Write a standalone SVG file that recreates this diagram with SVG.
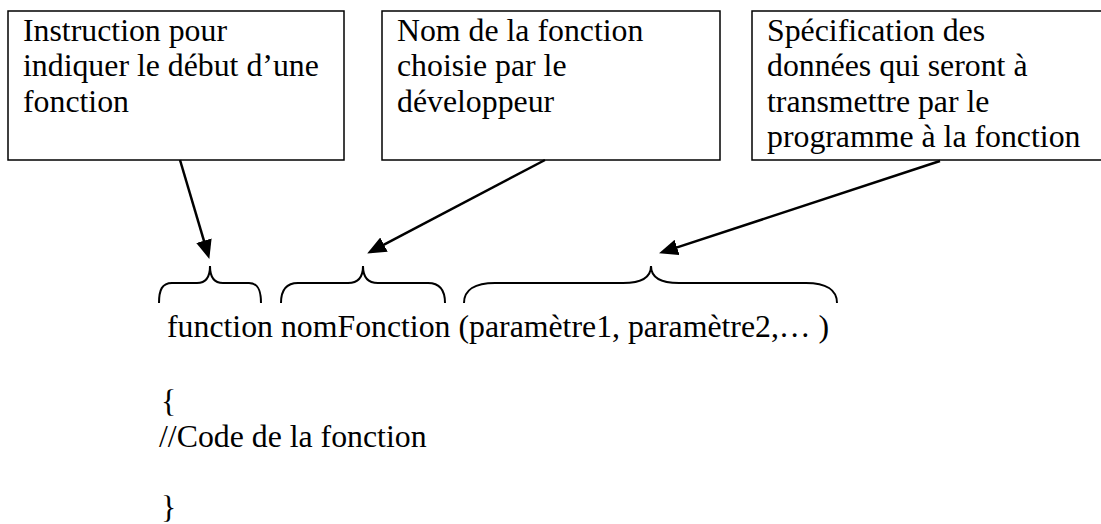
<svg xmlns="http://www.w3.org/2000/svg" width="1101" height="524" viewBox="0 0 1101 524">
<style>
.box{fill:#fff;stroke:#000;stroke-width:1.5}
.t{font-family:'Liberation Serif','Times New Roman',Times,serif;font-size:31.8px;fill:#000}
.brace{fill:none;stroke:#000;stroke-width:2}
.arr{fill:none;stroke:#000;stroke-width:2.5}
</style>
<defs>
<marker id="ah" markerUnits="userSpaceOnUse" markerWidth="19" markerHeight="16" refX="8" refY="8" orient="auto">
<path d="M0,0 L19,8 L0,16 z" fill="#000"/>
</marker>
</defs>
<rect width="1101" height="524" fill="#fff"/>
<g id="box1">
<rect class="box" x="8" y="11" width="336" height="149"/>
<text class="t"><tspan x="23" y="40.5">Instruction pour</tspan><tspan x="23" y="76">indiquer le début d’une</tspan><tspan x="23" y="111.5">fonction</tspan></text>
</g>
<g id="box2">
<rect class="box" x="382" y="11" width="338" height="149"/>
<text class="t"><tspan x="397" y="40.5">Nom de la fonction</tspan><tspan x="397" y="76">choisie par le</tspan><tspan x="397" y="111.5">développeur</tspan></text>
</g>
<g id="box3">
<rect class="box" x="752" y="11" width="360" height="149"/>
<text class="t"><tspan x="767" y="40.5">Spécification des</tspan><tspan x="767" y="76">données qui seront à</tspan><tspan x="767" y="111.5">transmettre par le</tspan><tspan x="767" y="147">programme à la fonction</tspan></text>
</g>
<g id="braces">
<path class="brace" d="M159,303 C159,290 162,283 172,283 L197,283 C205,283 210,278 210,266 C210,278 215,283 223,283 L249,283 C258,283 261,290 261,303"/>
<path class="brace" d="M281,303 C281,290 286,283 298,283 L348,283 C357,283 363,278 363,266 C363,278 369,283 378,283 L428,283 C440,283 445,290 445,303"/>
<path class="brace" d="M464,303 C464,290 475,283 495,283 L623,283 C640,283 651,278 651,266 C651,278 662,283 679,283 L806,283 C826,283 837,290 837,303"/>
</g>
<g id="code">
<text class="t" x="167" y="337">function nomFonction (paramètre1, paramètre2,… )</text>
<text class="t" x="161" y="412">{</text>
<text class="t" x="159" y="447">//Code de la fonction</text>
<text class="t" x="161" y="518">}</text>
</g>
<g id="connectors">
<line class="arr" x1="180" y1="160" x2="206.2" y2="248.4" marker-end="url(#ah)"/>
<line class="arr" x1="545" y1="160" x2="376.9" y2="248.3" marker-end="url(#ah)"/>
<line class="arr" x1="940" y1="161" x2="669.5" y2="249.9" marker-end="url(#ah)"/>
</g>
</svg>
